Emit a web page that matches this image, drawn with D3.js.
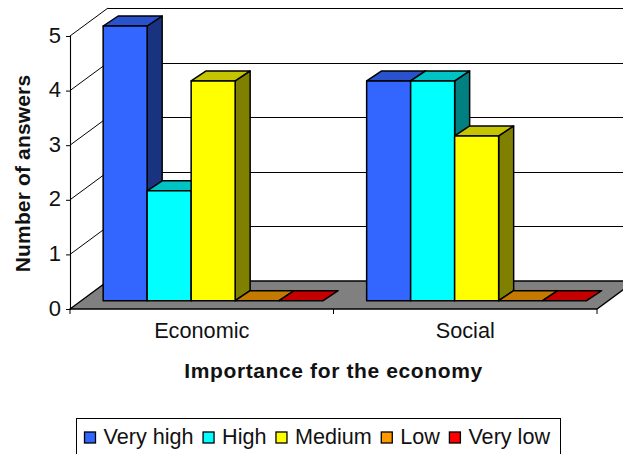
<!DOCTYPE html>
<html>
<head>
<meta charset="utf-8">
<style>
  html, body { margin: 0; padding: 0; background: #fff; overflow: hidden; }
  svg { display: block; }
  text { font-family: "Liberation Sans", Arial, sans-serif; fill: #111; }
</style>
<script src="https://d3js.org/d3.v7.min.js"></script>
</head>
<body>
<svg id="chart" width="623" height="454"></svg>
<script>
var categories = ["Economic", "Social"];
var seriesNames = ["Very high", "High", "Medium", "Low", "Very low"];
var economicValues = [5, 2, 4, 0, 0];
var socialValues = [4, 4, 3, 0, 0];
var yTicks = [0, 1, 2, 3, 4, 5];
var frontColors = ["#3366ff", "#00ffff", "#ffff00", "#ff9900", "#ff0000"];
var topColors = ["#2952cc", "#00c4c4", "#c4c400", "#c47a00", "#c40000"];
var sideColors = ["#1a3380", "#008080", "#808000", "#804d00", "#800000"];

var svg = d3.select("#chart");

// floor and wall depth of the 3d box, and where the columns sit inside it
var depthX = 38, depthY = 28;
var gapX = 11.4;
var barDepthX = 15, barDepthY = 10;

var x = d3.scaleBand().domain(categories).range([70, 597]);
var xSeries = d3.scaleBand().domain(seriesNames).range([0, 220]);
var y = d3.scaleLinear().domain([0, 5]).range([309, 36]);
var barY = d3.scaleLinear().domain([0, 5]).range([300.7, 26]);

function poly(points) {
    return d3.line()(points) + "Z";
}

// back wall lines run off the right edge
var grid = svg.append("g");
grid.selectAll("line.back").data(yTicks.slice(1)).enter().append("line")
    .attr("class", "back")
    .attr("x1", 70 + depthX).attr("x2", 640)
    .attr("y1", function(d){ return Math.round(y(d) - depthY) + 0.5; })
    .attr("y2", function(d){ return Math.round(y(d) - depthY) + 0.5; })
    .attr("stroke", "#000").attr("stroke-width", 1.1);
grid.selectAll("line.side").data(yTicks.slice(1)).enter().append("line")
    .attr("class", "side")
    .attr("x1", 70).attr("x2", 70 + depthX)
    .attr("y1", function(d){ return y(d); })
    .attr("y2", function(d){ return y(d) - depthY; })
    .attr("stroke", "#000").attr("stroke-width", 1);

// floor
svg.append("path")
    .attr("d", poly([[70, y(0)], [70 + depthX, y(0) - depthY], [597 + depthX, y(0) - depthY], [597, y(0)]]))
    .attr("fill", "#808080").attr("stroke", "#000").attr("stroke-width", 1.3);

// columns, drawn left to right so each front covers the previous side face
var groups = [economicValues, socialValues];
groups.forEach(function(values, c){
    values.forEach(function(v, s){
        var x0 = x(categories[c]) + (x.bandwidth() - 220) / 2 + gapX + xSeries(seriesNames[s]);
        var x1 = x0 + xSeries.bandwidth();
        var y0 = barY(0), y1 = barY(v);
        var g = svg.append("g").attr("stroke", "#000").attr("stroke-width", 1.5).attr("stroke-linejoin", "round");
        if (v > 0) {
            g.append("path")
                .attr("d", poly([[x1, y0], [x1 + barDepthX, y0 - barDepthY], [x1 + barDepthX, y1 - barDepthY], [x1, y1]]))
                .attr("fill", sideColors[s]);
        }
        g.append("path")
            .attr("d", poly([[x0, y1], [x0 + barDepthX, y1 - barDepthY], [x1 + barDepthX, y1 - barDepthY], [x1, y1]]))
            .attr("fill", topColors[s]);
        if (v > 0) {
            g.append("rect")
                .attr("x", x0).attr("y", y1)
                .attr("width", x1 - x0).attr("height", y0 - y1)
                .attr("fill", frontColors[s]);
        }
    });
});

// axes
var yAxis = svg.append("g")
    .attr("transform", "translate(70,0)")
    .call(d3.axisLeft(y).tickValues(yTicks).tickFormat(d3.format("d")).tickSize(4).tickPadding(5));
yAxis.select(".domain").attr("stroke", "#000").attr("stroke-width", 1.1);
yAxis.selectAll("line").attr("stroke", "#000");
yAxis.selectAll("text").style("font-family", "Liberation Sans").style("font-size", "22px").attr("fill", "#111").attr("dy", "0.28em");

var xAxis = svg.append("g")
    .attr("transform", "translate(0,309)")
    .call(d3.axisBottom(x).tickSize(0).tickPadding(14));
xAxis.select(".domain").remove();
xAxis.selectAll("text").style("font-family", "Liberation Sans").style("font-size", "21.7px").attr("fill", "#111");

// category separators below the floor
svg.append("g").selectAll("line")
    .data([x.range()[0], x.range()[0] + x.step(), x.range()[1]])
    .enter().append("line")
    .attr("x1", function(d){ return d; }).attr("x2", function(d){ return d; })
    .attr("y1", 309).attr("y2", 314)
    .attr("stroke", "#000");

// axis titles
svg.append("text")
    .attr("x", 333.5).attr("y", 378)
    .attr("text-anchor", "middle")
    .style("font-size", "21px").style("font-weight", "bold").style("letter-spacing", "0.62px")
    .text("Importance for the economy");
svg.append("text")
    .attr("transform", "translate(30,173.5) rotate(-90)")
    .attr("text-anchor", "middle")
    .style("font-size", "21px").style("font-weight", "bold").style("letter-spacing", "0.15px")
    .text("Number of answers");

// legend, its box runs past the bottom edge
svg.append("rect")
    .attr("x", 76.5).attr("y", 418.5)
    .attr("width", 484).attr("height", 50)
    .attr("fill", "#fff").attr("stroke", "#000").attr("stroke-width", 1);

var legendX = 84.5;
seriesNames.forEach(function(name, i){
    svg.append("rect")
        .attr("x", legendX).attr("y", 432)
        .attr("width", 11).attr("height", 11)
        .attr("fill", frontColors[i]).attr("stroke", "#000").attr("stroke-width", 1.3);
    var label = svg.append("text")
        .attr("x", legendX + 19).attr("y", 443.5)
        .style("font-size", "21.6px")
        .text(name);
    legendX += 19 + label.node().getComputedTextLength() + 9.5;
});
</script>
</body>
</html>
